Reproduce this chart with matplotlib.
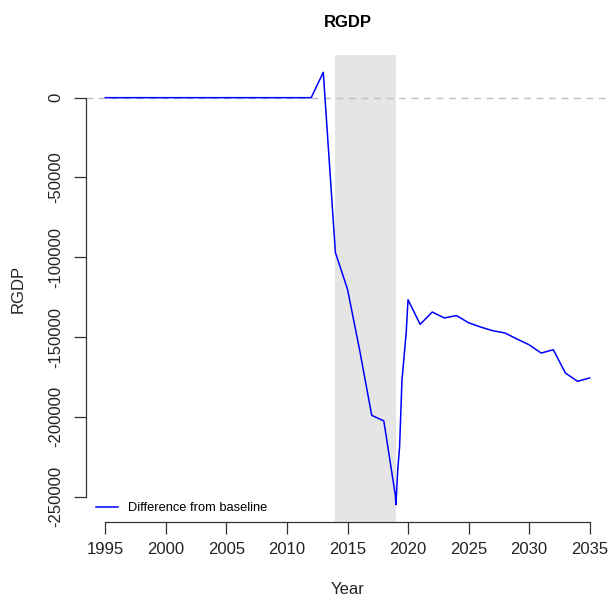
import matplotlib.pyplot as plt
import numpy as np

# values
years = [1995, 1996, 1997, 1998, 1999, 2000, 2001, 2002, 2003, 2004,
         2005, 2006, 2007, 2008, 2009, 2010, 2011, 2012, 2013, 2014,
         2015, 2016, 2017, 2018, 2018.95, 2019, 2019.15, 2019.3, 2019.5,
         2019.85, 2020, 2021, 2022, 2023, 2024, 2025, 2026, 2027, 2028,
         2029, 2030, 2031, 2032, 2033, 2034, 2035]
diff = [0, 0, 0, 0, 0, 0, 0, 0, 0, 0,
        0, 0, 0, 0, 0, 0, 0, 0, 15900, -97000,
        -120000, -158000, -199000, -202500, -249000, -255000, -233000, -219000, -177000,
        -147000, -126600, -142000, -134300, -138000, -136500, -141000, -143700, -146000, -147400,
        -151200, -154800, -160000, -157900, -172500, -177700, -175600]
shade_start, shade_end = 2014, 2019
xticks = [1995, 2000, 2005, 2010, 2015, 2020, 2025, 2030, 2035]
yticks = [0, -50000, -100000, -150000, -200000, -250000]

plt.rcParams['font.family'] = ['Liberation Sans', 'DejaVu Sans']

fig = plt.figure(figsize=(6.09, 6.03), dpi=100)
ax = fig.add_axes([86/609, 81/603, 523/609, 467/603])

# R-style 4% padding around the data range
x0, x1 = min(years), max(years)
y0, y1 = min(diff), max(diff)
dx, dy = (x1 - x0) * 0.04, (y1 - y0) * 0.04
ax.set_xlim(x0 - dx, x1 + dx)
ax.set_ylim(y0 - dy, y1 + dy)

ax.axvspan(shade_start, shade_end, color='#e5e5e5', lw=0, zorder=0)
ax.axhline(0, color='#c0c0c0', lw=1.0, ls=(0, (5, 4)), zorder=1)
ax.plot(years, diff, color='#0000ff', lw=1.1, label='Difference from baseline', zorder=2)

for s in ['top', 'right']:
    ax.spines[s].set_visible(False)
ax.spines['left'].set_bounds(yticks[-1], yticks[0])
ax.spines['bottom'].set_bounds(xticks[0], xticks[-1])
for s in ['left', 'bottom']:
    ax.spines[s].set_linewidth(0.9)
    ax.spines[s].set_color('#333333')

ax.set_xticks(xticks)
ax.set_yticks(yticks)
ax.set_yticklabels([str(v) for v in yticks], rotation=90, va='center')
ax.tick_params(axis='both', direction='out', length=8.5, width=0.9, color='#333333',
               labelsize=12, labelcolor='#222222')
ax.tick_params(axis='x', pad=6)
ax.tick_params(axis='y', pad=8)

ax.set_xlabel('Year', fontsize=12, labelpad=18, color='#222222')
ax.set_ylabel('RGDP', fontsize=12, labelpad=16, color='#222222')
ax.set_title('RGDP', fontsize=12, fontweight='bold', pad=20)

ax.legend(loc='lower left', bbox_to_anchor=(0.005, 0.0), frameon=False, fontsize=9.3,
          handlelength=1.7, handletextpad=0.75, borderaxespad=0.2)

plt.savefig('out.png', dpi=100)
plt.close()
